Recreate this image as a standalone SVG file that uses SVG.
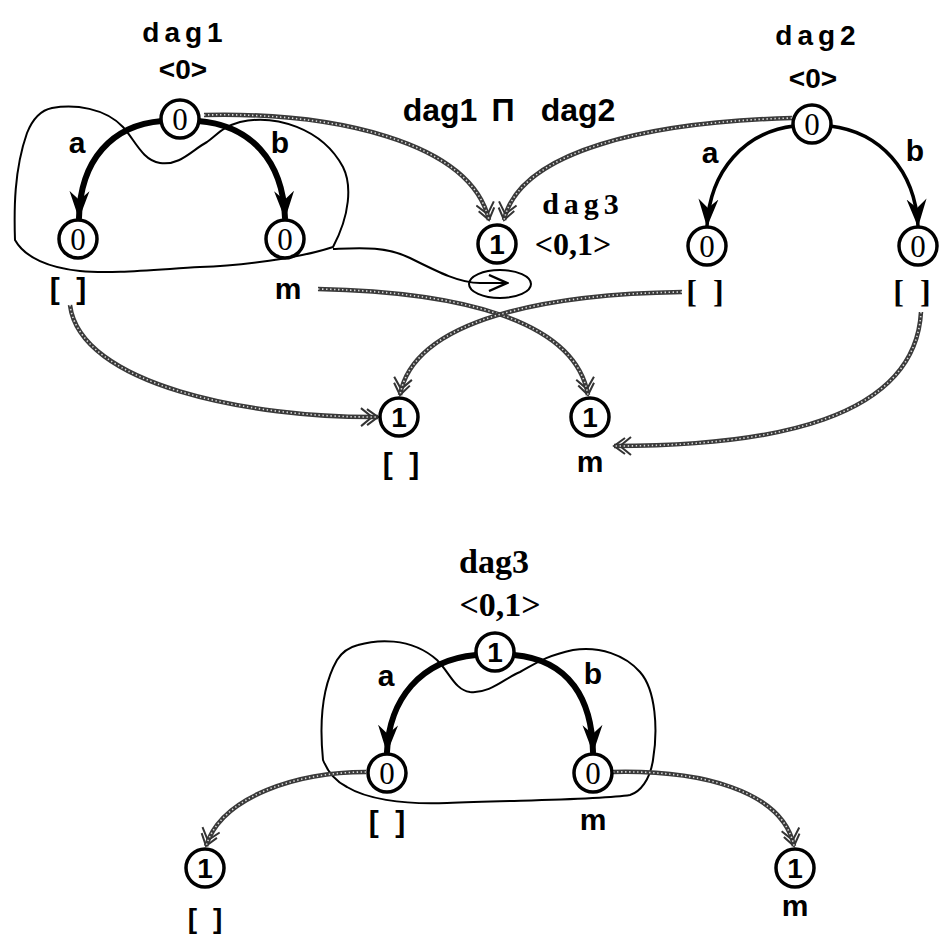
<svg xmlns="http://www.w3.org/2000/svg" width="940" height="937" viewBox="0 0 940 937">
  <style>
    .bg { fill: #fff; }
    .node circle { fill: #fff; stroke: #000; stroke-width: 3.5; }
    .n0 { font-family: "Liberation Serif", serif; font-size: 31px; text-anchor: middle; }
    .n1 { font-family: "Liberation Sans", sans-serif; font-size: 28px; font-weight: bold; text-anchor: middle; }
    .sans { font-family: "Liberation Sans", sans-serif; font-weight: bold; font-size: 30px; text-anchor: middle; }
    .serif { font-family: "Liberation Serif", serif; font-weight: bold; font-size: 32px; text-anchor: middle; }
    .spaced { letter-spacing: 5px; }
    .br { letter-spacing: 4px; }
    .edge { fill: none; stroke: #000; stroke-linecap: round; }
    .thick { stroke-width: 6; }
    .thin { stroke-width: 3.5; }
    .outline { fill: none; stroke: #000; stroke-width: 2; }
    .hbase { fill: none; stroke: #3a3a3a; stroke-width: 4.5; }
    .hdots { fill: none; stroke: #d8d8d8; stroke-width: 1.6; stroke-dasharray: 1.4 2.6; }
  </style>
  <defs>
    <marker id="solidArrow" markerUnits="userSpaceOnUse" markerWidth="30" markerHeight="22" refX="27" refY="11" orient="auto">
      <path d="M0,1 L28,11 L0,21 L9,11 Z" fill="#000"/>
    </marker>
    <marker id="hatchArrow" markerUnits="userSpaceOnUse" markerWidth="22" markerHeight="20" refX="19" refY="10" orient="auto">
      <path d="M2,1 L13,10 L2,19 M8,2 L19,10 L8,18" fill="none" stroke="#333" stroke-width="2"/>
    </marker>
    <marker id="openArrow" markerUnits="userSpaceOnUse" markerWidth="22" markerHeight="18" refX="20" refY="9" orient="auto">
      <path d="M2,1 L20,9 L2,17" fill="none" stroke="#000" stroke-width="2.4"/>
    </marker>
  </defs>

  <rect class="bg" width="940" height="937"/>

  <!-- grouping outlines and the pointer into the ellipse -->
  <g id="outlines">
    <path class="outline" d="M52,108 C75,104 105,108 123,127 C135,140 142,160 160,163 C180,166 192,150 207,142 C218,134 222,127 240,122 C275,114 322,128 343,167 C352,185 350,215 333,247 C300,258 240,266 200,267 C150,270 110,274 80,271 C50,268 25,258 15,240 C14,210 14,170 27,133 C33,118 42,110 52,108 Z"/>
    <path class="outline" d="M333,249 C360,248 385,246 410,258 C440,273 460,283 480,283"/>
    <path class="outline" d="M480,283 L507,283" marker-end="url(#openArrow)"/>
    <ellipse class="outline" cx="500" cy="284" rx="31" ry="14"/>
    <path class="outline" d="M358,645 C375,640 410,636 437,660 C450,673 455,690 470,692 C490,694 505,678 520,672 C535,664 545,656 573,650 C600,646 625,655 640,672 C656,690 658,730 653,760 C650,780 640,792 630,795 C600,800 520,800 447,803 C400,805 365,798 347,787 C333,780 327,770 323,760 C320,730 320,690 337,660 C342,652 350,647 358,645 Z"/>
  </g>

  <!-- hatched correspondence connectors -->
  <g id="connectors">
    <g id="c-root1">
      <path class="hbase" d="M204,115 C330,112 470,140 489,220" marker-end="url(#hatchArrow)"/>
      <path class="hdots" d="M204,115 C330,112 470,140 489,220"/>
    </g>
    <g id="c-root2">
      <path class="hbase" d="M792,118 C650,122 520,150 504,220" marker-end="url(#hatchArrow)"/>
      <path class="hdots" d="M792,118 C650,122 520,150 504,220"/>
    </g>
    <g id="c-left1">
      <path class="hbase" d="M70,305 C80,385 250,418 378,417" marker-end="url(#hatchArrow)"/>
      <path class="hdots" d="M70,305 C80,385 250,418 378,417"/>
    </g>
    <g id="c-m1">
      <path class="hbase" d="M318,289 C460,292 575,320 588,395" marker-end="url(#hatchArrow)"/>
      <path class="hdots" d="M318,289 C460,292 575,320 588,395"/>
    </g>
    <g id="c-left2">
      <path class="hbase" d="M682,292 C550,294 414,318 400,395" marker-end="url(#hatchArrow)"/>
      <path class="hdots" d="M682,292 C550,294 414,318 400,395"/>
    </g>
    <g id="c-right2">
      <path class="hbase" d="M921,312 C915,420 770,446 614,446" marker-end="url(#hatchArrow)"/>
      <path class="hdots" d="M921,312 C915,420 770,446 614,446"/>
    </g>
    <g id="c-left3">
      <path class="hbase" d="M366,772 C300,772 222,795 206,846" marker-end="url(#hatchArrow)"/>
      <path class="hdots" d="M366,772 C300,772 222,795 206,846"/>
    </g>
    <g id="c-right3">
      <path class="hbase" d="M613,772 C700,770 782,790 794,846" marker-end="url(#hatchArrow)"/>
      <path class="hdots" d="M613,772 C700,770 782,790 794,846"/>
    </g>
  </g>

  <!-- feature arcs -->
  <g id="arcs">
    <path class="edge thick" d="M162,121 C112,125 80,160 79,218" marker-end="url(#solidArrow)"/>
    <path class="edge thick" d="M198,121 C250,125 283,160 285,218" marker-end="url(#solidArrow)"/>
    <path class="edge thin" d="M794,126 C745,132 710,170 707,226" marker-end="url(#solidArrow)"/>
    <path class="edge thin" d="M830,126 C880,132 915,170 918,226" marker-end="url(#solidArrow)"/>
    <path class="edge thick" d="M476,655 C420,660 389,700 387,752" marker-end="url(#solidArrow)"/>
    <path class="edge thick" d="M514,655 C570,660 592,700 593,752" marker-end="url(#solidArrow)"/>
  </g>

  <!-- dag1 -->
  <g id="dag1">
    <text class="sans spaced" x="185" y="42" style="font-size:28px">dag1</text>
    <text class="sans" x="183" y="79" style="font-size:28px">&lt;0&gt;</text>
    <text class="sans" x="77" y="153">a</text>
    <text class="sans" x="280" y="153">b</text>
  </g>
  <g id="dag1-root" class="node"><circle cx="180" cy="119" r="19"/><text class="n0" x="180" y="130">0</text></g>
  <g id="dag1-a" class="node"><circle cx="78" cy="239" r="19"/><text class="n0" x="78" y="250">0</text><text class="sans br" x="70" y="299">[ ]</text></g>
  <g id="dag1-b" class="node"><circle cx="285" cy="239" r="19"/><text class="n0" x="285" y="250">0</text><text class="sans" x="288" y="299">m</text></g>

  <!-- operation label -->
  <g id="meet-label">
    <text class="sans" x="440" y="121" style="font-size:32px">dag1</text>
    <text class="sans" x="503" y="121" style="font-size:32px">Π</text>
    <text class="sans" x="578" y="121" style="font-size:32px">dag2</text>
  </g>

  <!-- dag3 result node -->
  <g id="dag3-top" class="node">
    <circle cx="497" cy="244" r="19"/><text class="n1" x="497" y="254">1</text>
    <text class="serif spaced" x="583" y="214" style="font-size:30px">dag3</text>
    <text class="serif" x="573" y="255">&lt;0,1&gt;</text>
  </g>

  <!-- dag2 -->
  <g id="dag2">
    <text class="sans spaced" x="818" y="45" style="font-size:28px">dag2</text>
    <text class="sans" x="813" y="88" style="font-size:28px">&lt;0&gt;</text>
    <text class="sans" x="710" y="163">a</text>
    <text class="sans" x="915" y="161">b</text>
  </g>
  <g id="dag2-root" class="node"><circle cx="812" cy="124" r="19"/><text class="n0" x="812" y="135">0</text></g>
  <g id="dag2-a" class="node"><circle cx="707" cy="246" r="19"/><text class="n0" x="707" y="257">0</text><text class="serif br" x="707" y="302">[ ]</text></g>
  <g id="dag2-b" class="node"><circle cx="918" cy="246" r="19"/><text class="n0" x="918" y="257">0</text><text class="serif br" x="914" y="302">[ ]</text></g>

  <!-- shared result nodes -->
  <g id="res-list" class="node"><circle cx="399" cy="417" r="19"/><text class="n1" x="399" y="427">1</text><text class="sans br" x="403" y="474">[ ]</text></g>
  <g id="res-m" class="node"><circle cx="590" cy="417" r="19"/><text class="n1" x="590" y="427">1</text><text class="sans" x="590" y="472">m</text></g>

  <!-- dag3 drawn as a whole -->
  <g id="dag3">
    <text class="serif" x="494" y="573" style="font-size:34px">dag3</text>
    <text class="serif" x="500" y="616" style="font-size:34px">&lt;0,1&gt;</text>
    <text class="sans" x="386" y="686">a</text>
    <text class="sans" x="593" y="684">b</text>
  </g>
  <g id="dag3-root" class="node"><circle cx="495" cy="652" r="19"/><text class="n1" x="495" y="662">1</text></g>
  <g id="dag3-a" class="node"><circle cx="387" cy="773" r="19"/><text class="n0" x="387" y="784">0</text><text class="sans br" x="389" y="832">[ ]</text></g>
  <g id="dag3-b" class="node"><circle cx="593" cy="773" r="19"/><text class="n0" x="593" y="784">0</text><text class="sans" x="593" y="830">m</text></g>
  <g id="dag3-list" class="node"><circle cx="205" cy="868" r="19"/><text class="n1" x="205" y="878">1</text><text class="sans br" x="207" y="928" style="font-size:28px">[ ]</text></g>
  <g id="dag3-m" class="node"><circle cx="795" cy="868" r="19"/><text class="n1" x="795" y="878">1</text><text class="sans" x="795" y="916">m</text></g>
</svg>
